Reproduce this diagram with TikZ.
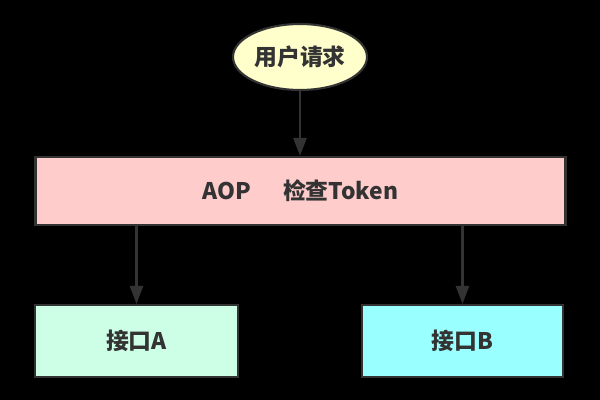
\documentclass[tikz,border=0pt]{standalone}
\usepackage{fontspec}
\setmainfont{Noto Sans CJK SC}
\usetikzlibrary{arrows.meta,shapes.geometric}
\definecolor{edgegray}{HTML}{333333}
\definecolor{reqfill}{HTML}{FFFFCC}
\definecolor{aopfill}{HTML}{FFCCCC}
\definecolor{afill}{HTML}{CCFFE6}
\definecolor{bfill}{HTML}{99FFFF}
\begin{document}
\begin{tikzpicture}[
  every node/.style={draw=edgegray,line width=1.2pt,text=edgegray,
    font=\fontsize{13}{15}\selectfont\bfseries},
  req/.style={ellipse,fill=reqfill,minimum width=2.68cm,minimum height=1.32cm,inner sep=0pt},
  box/.style={rectangle,minimum height=1.44cm,inner sep=0pt},
  flow/.style={draw=edgegray,line width=1.5pt,-{Triangle[length=0.36cm,width=0.26cm]}}
]

\fill[black] (0,0) rectangle (12,8);
\useasboundingbox (0,0) rectangle (12,8);

\node[req] (user) at (6,6.86) {用户请求};
\node[box,fill=aopfill,minimum width=10.6cm,minimum height=1.36cm] (aop) at (6.01,4.18) {AOP\hspace{0.64cm}检查Token};
\node[box,fill=afill,minimum width=4.06cm] (ifa) at (2.73,1.18) {接口A};
\node[box,fill=bfill,minimum width=4.02cm] (ifb) at (9.25,1.18) {接口B};

\draw[flow] (user) -- (user |- aop.north);
\draw[flow] (aop.south -| ifa.north) -- (ifa);
\draw[flow] (aop.south -| ifb.north) -- (ifb);
\end{tikzpicture}
\end{document}
